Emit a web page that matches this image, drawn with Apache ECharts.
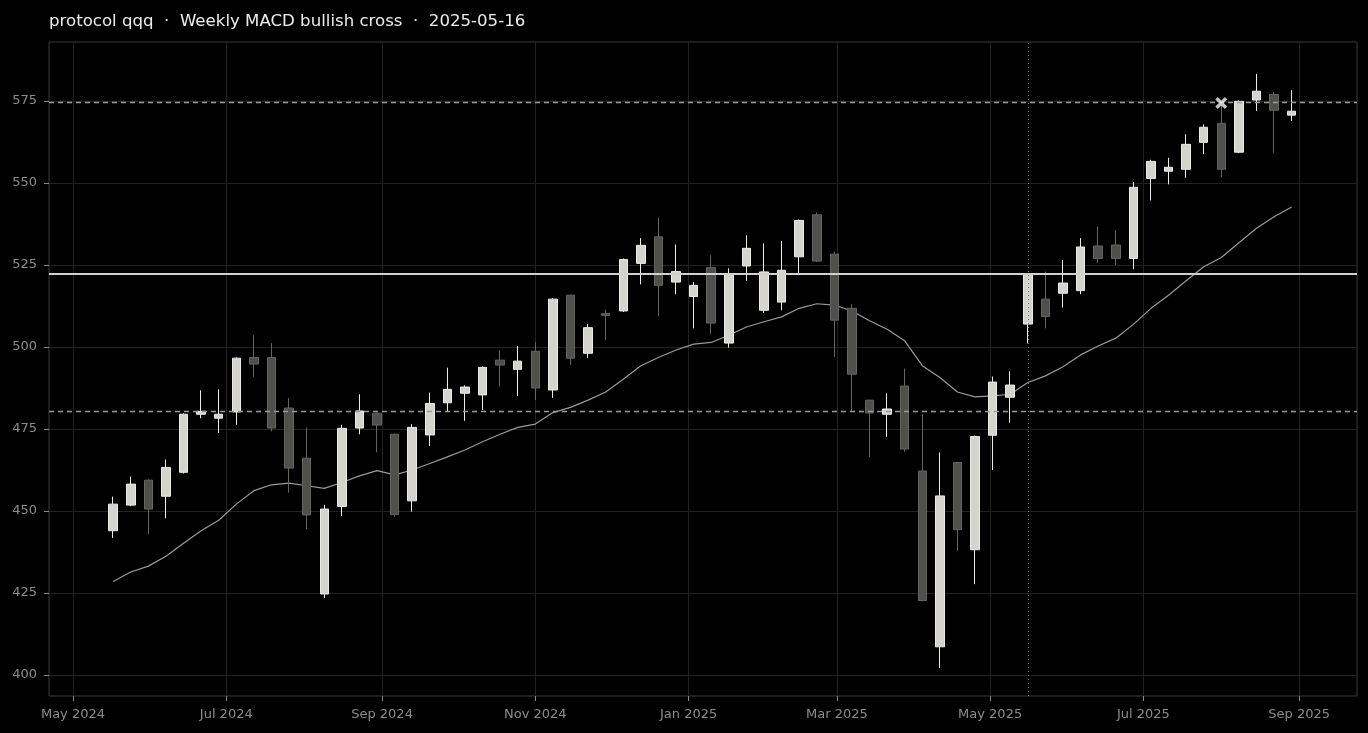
<!DOCTYPE html>
<html>
<head>
<meta charset="utf-8">
<script src="https://cdn.jsdelivr.net/npm/echarts@6/dist/echarts.min.js"></script>
<style>
  html, body { margin: 0; padding: 0; background: #000; }
  #chart { width: 1368px; height: 733px; }
</style>
</head>
<body>
<div id="chart"></div>
<script>
// weekly bars (friday close)
const dates = [
  '2024-05-17', '2024-05-24', '2024-05-31', '2024-06-07', '2024-06-14', '2024-06-21', '2024-06-28',
  '2024-07-05', '2024-07-12', '2024-07-19', '2024-07-26', '2024-08-02', '2024-08-09', '2024-08-16',
  '2024-08-23', '2024-08-30', '2024-09-06', '2024-09-13', '2024-09-20', '2024-09-27', '2024-10-04',
  '2024-10-11', '2024-10-18', '2024-10-25', '2024-11-01', '2024-11-08', '2024-11-15', '2024-11-22',
  '2024-11-29', '2024-12-06', '2024-12-13', '2024-12-20', '2024-12-27', '2025-01-03', '2025-01-10',
  '2025-01-17', '2025-01-24', '2025-01-31', '2025-02-07', '2025-02-14', '2025-02-21', '2025-02-28',
  '2025-03-07', '2025-03-14', '2025-03-21', '2025-03-28', '2025-04-04', '2025-04-11', '2025-04-18',
  '2025-04-25', '2025-05-02', '2025-05-09', '2025-05-16', '2025-05-23', '2025-05-30', '2025-06-06',
  '2025-06-13', '2025-06-20', '2025-06-27', '2025-07-04', '2025-07-11', '2025-07-18', '2025-07-25',
  '2025-08-01', '2025-08-08', '2025-08-15', '2025-08-22', '2025-08-29'
];
const opens = [
  444.0, 451.8, 459.4, 454.5, 461.8, 479.5, 478.3, 480.2, 496.8, 496.8,
  481.4, 466.1, 424.7, 451.4, 475.3, 479.8, 473.4, 453.1, 473.2, 483.0,
  485.9, 485.4, 496.0, 493.2, 498.7, 486.9, 515.8, 498.1, 510.2, 511.0,
  525.5, 533.6, 519.8, 515.4, 524.2, 501.2, 524.7, 511.2, 513.7, 527.5,
  540.3, 528.3, 511.8, 483.8, 479.5, 488.1, 462.2, 408.6, 464.8, 438.2,
  473.1, 484.7, 507.0, 514.6, 516.4, 517.2, 530.8, 531.1, 527.0, 551.4,
  553.6, 554.2, 562.4, 568.2, 559.4, 575.3, 577.0, 570.7
];
const closes = [
  452.1, 458.2, 450.6, 463.3, 479.5, 480.4, 479.5, 496.6, 494.8, 475.3,
  463.1, 448.8, 450.6, 475.2, 480.5, 476.2, 448.9, 475.5, 482.8, 487.1,
  487.8, 493.8, 494.5, 495.7, 487.5, 514.6, 496.6, 505.9, 509.6, 526.7,
  531.0, 518.8, 523.0, 518.8, 507.3, 522.2, 530.1, 522.9, 523.4, 538.6,
  526.2, 508.2, 491.7, 479.9, 481.1, 468.9, 422.7, 454.6, 444.3, 472.7,
  489.3, 488.4, 521.9, 509.3, 519.5, 530.5, 527.0, 527.0, 548.7, 556.6,
  554.8, 561.8, 567.0, 554.2, 574.9, 578.0, 572.2, 571.9
];
const lows = [
  441.8, 451.5, 443.0, 447.8, 461.4, 478.3, 473.8, 476.3, 490.9, 474.3,
  455.6, 444.5, 423.5, 448.5, 473.4, 467.9, 448.2, 449.8, 469.8, 480.2,
  477.5, 480.8, 488.0, 485.1, 483.8, 484.5, 494.6, 496.7, 502.1, 510.7,
  519.1, 509.4, 516.1, 505.7, 503.9, 499.8, 520.2, 510.4, 511.2, 522.4,
  525.9, 497.0, 480.3, 466.5, 472.6, 468.1, 422.5, 402.1, 437.9, 427.7,
  462.5, 476.9, 501.1, 505.7, 512.0, 516.1, 525.7, 525.0, 523.7, 544.7,
  549.6, 551.6, 558.8, 551.8, 559.1, 572.0, 559.2, 568.9
];
const highs = [
  454.4, 460.5, 459.7, 465.7, 479.8, 486.8, 487.1, 496.8, 503.6, 501.2,
  484.4, 475.5, 451.9, 476.3, 485.6, 480.0, 473.6, 476.5, 486.1, 493.7,
  488.3, 494.1, 499.0, 500.3, 501.4, 514.9, 516.0, 507.0, 511.4, 527.0,
  533.2, 539.4, 531.3, 519.8, 528.0, 524.0, 534.1, 531.6, 532.3, 538.9,
  541.0, 529.1, 513.1, 484.0, 485.9, 493.4, 479.5, 467.9, 465.0, 473.0,
  491.0, 492.6, 522.2, 523.0, 526.5, 533.2, 536.8, 535.6, 550.3, 557.1,
  557.7, 564.9, 567.9, 574.4, 575.2, 583.3, 577.8, 578.3
];
const ma = [
  428.5, 431.4, 433.2, 436.2, 440.2, 444.0, 447.2, 452.1, 456.2, 458.0,
  458.5, 457.7, 456.9, 458.7, 460.7, 462.3, 461.0, 462.5, 464.5, 466.5,
  468.6, 471.1, 473.4, 475.5, 476.5, 480.0, 481.6, 483.8, 486.3, 490.2,
  494.3, 496.8, 499.1, 500.9, 501.4, 503.6, 506.1, 507.7, 509.2, 511.8,
  513.2, 512.8, 511.0, 508.0, 505.4, 501.9, 494.3, 490.7, 486.3, 484.8,
  485.1, 485.6, 489.2, 491.2, 494.0, 497.6, 500.3, 502.7, 506.9, 511.8,
  515.8, 520.2, 524.5, 527.3, 531.8, 536.2, 539.7, 542.7
];

const yTicks = [400, 425, 450, 475, 500, 525, 550, 575];
const xTicks = ['2024-05-01', '2024-07-01', '2024-09-01', '2024-11-01', '2025-01-01', '2025-03-01', '2025-05-01', '2025-07-01', '2025-09-01'];
const monthNames = ['Jan', 'Feb', 'Mar', 'Apr', 'May', 'Jun', 'Jul', 'Aug', 'Sep', 'Oct', 'Nov', 'Dec'];

const signalDate = '2025-05-16';
const crossPoint = ['2025-08-01', 574.4];
const levelUpper = 574.5;
const levelLower = 480.3;
const levelPivot = 522.4;

const font = 'DejaVu Sans';
const ts = (d) => Date.parse(d);

const candles = dates.map((d, i) => [ts(d), opens[i], closes[i], lows[i], highs[i]]);
const maLine = dates.map((d, i) => [ts(d), ma[i]]);

const chart = echarts.init(document.getElementById('chart'));
chart.setOption({
  backgroundColor: '#000',
  animation: false,
  title: {
    text: 'protocol qqq  \u00b7  Weekly MACD bullish cross  \u00b7  2025-05-16',
    left: 44,
    top: 8,
    textStyle: { color: '#ececec', fontSize: 16.6, fontWeight: 'normal', fontFamily: font },
  },
  grid: {
    left: 49,
    right: 11,
    top: 42,
    bottom: 37,
    show: true,
    borderColor: '#3a3a3a',
    borderWidth: 1,
    backgroundColor: 'transparent',
  },
  // dates as epoch ms on a value axis so the month ticks can be placed by hand
  xAxis: {
    type: 'value',
    min: Date.UTC(2024, 3, 21, 11),
    max: Date.UTC(2025, 8, 24),
    axisLine: { show: false },
    axisTick: {
      show: true,
      length: 5,
      customValues: xTicks.map(ts),
      lineStyle: { color: '#888' },
    },
    axisLabel: {
      customValues: xTicks.map(ts),
      color: '#8c8c8c',
      fontSize: 13,
      fontFamily: font,
      margin: 12,
      formatter: (v) => {
        const d = new Date(v);
        return monthNames[d.getUTCMonth()] + ' ' + d.getUTCFullYear();
      },
    },
    splitLine: { show: true, lineStyle: { color: '#222', width: 1 } },
  },
  yAxis: {
    type: 'value',
    min: 393.6,
    max: 593,
    axisLine: { show: false },
    axisTick: {
      show: true,
      length: 5,
      customValues: yTicks,
      lineStyle: { color: '#888' },
    },
    axisLabel: {
      customValues: yTicks,
      color: '#8c8c8c',
      fontSize: 13,
      fontFamily: font,
      margin: 12,
    },
    splitLine: { show: true, lineStyle: { color: '#222', width: 1 } },
  },
  series: [
    {
      name: 'MA',
      type: 'line',
      data: maLine,
      showSymbol: false,
      symbol: 'none',
      z: 2,
      lineStyle: { color: '#9a9a9a', width: 1.2 },
      markLine: {
        silent: true,
        symbol: 'none',
        label: { show: false },
        data: [
          { yAxis: levelUpper, lineStyle: { color: '#9a9a9a', width: 1.3, type: [5, 4] } },
          { yAxis: levelLower, lineStyle: { color: '#9a9a9a', width: 1.3, type: [5, 4] } },
          { yAxis: levelPivot, lineStyle: { color: '#d0d0d0', width: 2, type: 'solid' } },
          { xAxis: ts(signalDate), lineStyle: { color: '#777', width: 1, type: [1, 3] } },
        ],
      },
    },
    {
      name: 'price',
      type: 'candlestick',
      data: candles,
      barWidth: 9,
      z: 3,
      itemStyle: {
        color: '#d4d4cd',
        color0: '#4f4f4b',
        borderColor: '#ececE6',
        borderColor0: '#66665f',
        borderWidth: 1,
      },
    },
    {
      name: 'cross',
      type: 'scatter',
      data: [[ts(crossPoint[0]), crossPoint[1]]],
      symbol: 'path://M2,0L5,3L8,0L10,2L7,5L10,8L8,10L5,7L2,10L0,8L3,5L0,2Z',
      symbolSize: 12,
      z: 5,
      itemStyle: { color: '#f4f4f4' },
    },
  ],
});
</script>
</body>
</html>
